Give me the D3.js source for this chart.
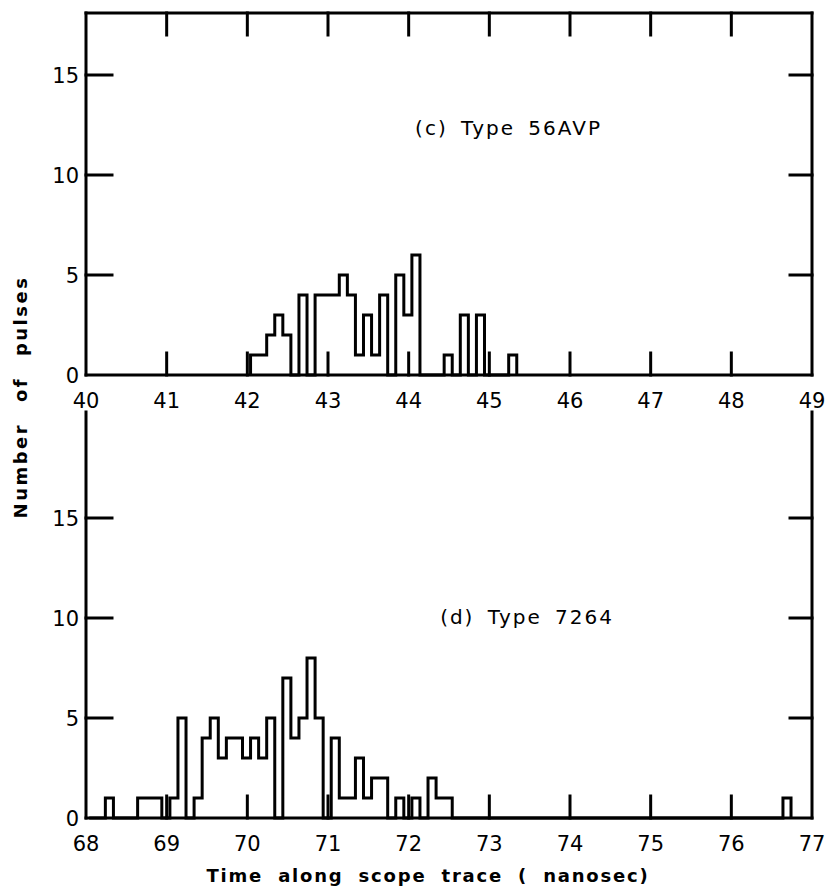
<!doctype html>
<html lang="en">
<head>
<meta charset="utf-8">
<script src="https://d3js.org/d3.v7.min.js"></script>
<title>Pulse time histograms</title>
<style>
  body { margin: 0; background: #fff; }
  svg text { font-family: "DejaVu Sans", sans-serif; fill: #000; }
  .frame, .tick { stroke: #000; stroke-width: 3; stroke-linecap: square; }
  .hist { fill: none; stroke: #000; stroke-width: 3; stroke-linejoin: miter; }
</style>
</head>
<body>
<div id="chart"></div>
<script>
// histogram bins are 0.1 ns wide
const binWidth = 0.1;

// (c) Type 56AVP
const topLabel = "(c) Type 56AVP";
const topStart = 42.04;
const topCounts = [1, 1, 2, 3, 2, 0, 4, 0, 4, 4, 4, 5, 4, 1, 3, 1, 4, 0, 5, 3,
                   6, 0, 0, 0, 1, 0, 3, 0, 3, 0, 0, 0, 1];

// (d) Type 7264
const bottomLabel = "(d) Type 7264";
const bottomStart = 68.04;
const bottomCounts = [0, 0, 1, 0, 0, 0, 1, 1, 1, 0, 1, 5, 0, 1, 4, 5, 3, 4, 4, 3,
                      4, 3, 5, 0, 7, 4, 5, 8, 5, 0, 4, 1, 1, 3, 1, 2, 2, 0, 1, 0,
                      1, 0, 2, 1, 1, 0, 0, 0, 0, 0, 0, 0, 0, 0, 0, 0, 0, 0, 0, 0,
                      0, 0, 0, 0, 0, 0, 0, 0, 0, 0, 0, 0, 0, 0, 0, 0, 0, 0, 0, 0,
                      0, 0, 0, 0, 0, 0, 1];

const topXTicks = [40, 41, 42, 43, 44, 45, 46, 47, 48, 49];
const bottomXTicks = [68, 69, 70, 71, 72, 73, 74, 75, 76, 77];
const yTicks = [0, 5, 10, 15];

const W = 835, H = 892;
const left = 86, right = 812;

const svg = d3.select('#chart').append('svg')
  .attr('width', W)
  .attr('height', H);

function drawPanel(p) {
  const x = d3.scaleLinear().domain([p.ticks[0], p.ticks[p.ticks.length - 1]]).range([left, right]);
  const y = d3.scaleLinear().domain([0, p.ymax]).range([p.base, p.top]);
  const g = svg.append('g');

  // frame
  g.append('line').attr('class', 'frame').attr('x1', left).attr('x2', left).attr('y1', p.top).attr('y2', p.base);
  g.append('line').attr('class', 'frame').attr('x1', right).attr('x2', right).attr('y1', p.top).attr('y2', p.base);
  g.append('line').attr('class', 'frame').attr('x1', left).attr('x2', right).attr('y1', p.base).attr('y2', p.base);
  if (p.topBorder) {
    g.append('line').attr('class', 'frame').attr('x1', left).attr('x2', right).attr('y1', p.top).attr('y2', p.top);
  }

  // inner x ticks
  const inner = p.ticks.slice(1, -1);
  g.selectAll('.xb').data(inner).enter().append('line')
    .attr('class', 'tick')
    .attr('x1', d => x(d)).attr('x2', d => x(d))
    .attr('y1', p.base).attr('y2', p.base - 22);
  if (p.topBorder) {
    g.selectAll('.xt').data(inner).enter().append('line')
      .attr('class', 'tick')
      .attr('x1', d => x(d)).attr('x2', d => x(d))
      .attr('y1', p.top).attr('y2', p.top + 22);
  }

  // y ticks both sides
  const yIn = yTicks.filter(d => d > 0);
  g.selectAll('.yl').data(yIn).enter().append('line')
    .attr('class', 'tick')
    .attr('x1', left).attr('x2', left + 26)
    .attr('y1', d => y(d)).attr('y2', d => y(d));
  g.selectAll('.yr').data(yIn).enter().append('line')
    .attr('class', 'tick')
    .attr('x1', right - 22).attr('x2', right)
    .attr('y1', d => y(d)).attr('y2', d => y(d));

  // tick labels
  g.selectAll('.xlab').data(p.ticks).enter().append('text')
    .attr('x', d => x(d))
    .attr('y', p.base + 33)
    .attr('text-anchor', 'middle')
    .style('font-size', '21px')
    .text(d => d);
  g.selectAll('.ylab').data(yTicks).enter().append('text')
    .attr('x', left - 7)
    .attr('y', d => y(d) + 8)
    .attr('text-anchor', 'end')
    .style('font-size', '21px')
    .text(d => d);

  // histogram outline
  const pts = [[p.start, 0]];
  p.counts.forEach((c, i) => pts.push([p.start + i * binWidth, c]));
  pts.push([p.start + p.counts.length * binWidth, 0]);
  const line = d3.line()
    .x(d => x(d[0]))
    .y(d => y(d[1]))
    .curve(d3.curveStepAfter);
  g.append('path').attr('class', 'hist').attr('d', line(pts));

  // panel label
  g.append('text')
    .attr('x', x(p.labelAt[0]))
    .attr('y', y(p.labelAt[1]))
    .style('font-size', '20px')
    .style('letter-spacing', '2px')
    .style('word-spacing', '5px')
    .text(p.label);
}

drawPanel({
  ticks: topXTicks, top: 13, base: 375, ymax: 18.1, topBorder: true,
  start: topStart, counts: topCounts, label: topLabel, labelAt: [44.08, 12.0]
});

drawPanel({
  ticks: bottomXTicks, top: 412, base: 818, ymax: 20.3, topBorder: false,
  start: bottomStart, counts: bottomCounts, label: bottomLabel, labelAt: [72.39, 9.7]
});

// axis titles
svg.append('text')
  .attr('transform', 'translate(27,397) rotate(-90)')
  .attr('text-anchor', 'middle')
  .style('font-size', '18px')
  .style('font-weight', 'bold')
  .style('letter-spacing', '2.5px')
  .style('word-spacing', '12px')
  .text('Number of pulses');

svg.append('text')
  .attr('x', 428)
  .attr('y', 882)
  .attr('text-anchor', 'middle')
  .style('font-size', '18px')
  .style('font-weight', 'bold')
  .style('letter-spacing', '1.8px')
  .style('word-spacing', '7px')
  .text('Time along scope trace ( nanosec)');
</script>
</body>
</html>
